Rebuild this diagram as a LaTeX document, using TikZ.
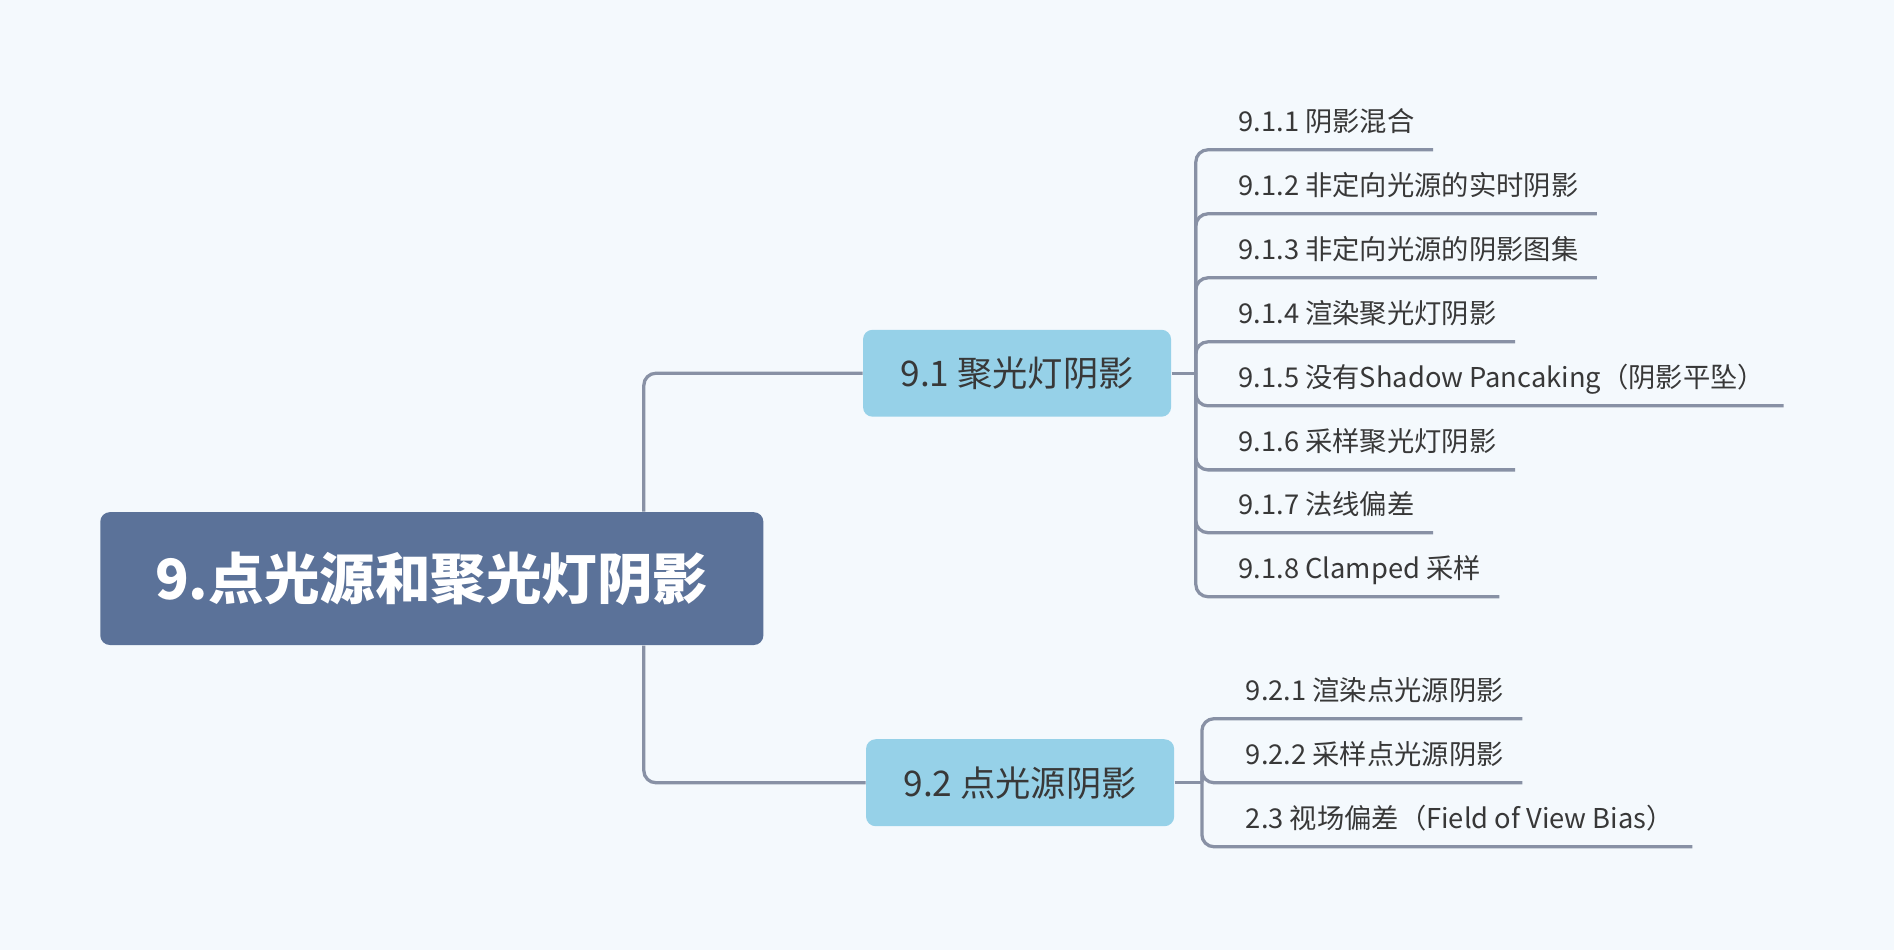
\documentclass[tikz,border=0pt]{standalone}
\usepackage{fontspec}
\setmainfont{Noto Sans CJK SC}
\usepackage{xcolor}

\definecolor{bgcol}{HTML}{F4F9FD}
\definecolor{rootcol}{HTML}{5B7299}
\definecolor{subcol}{HTML}{96D1E8}
\definecolor{linecol}{HTML}{8891A5}
\definecolor{txtcol}{HTML}{383838}

\begin{document}
\begin{tikzpicture}[x=0.5pt,y=-0.5pt,
        link/.style={draw=linecol, line width=1.35pt, rounded corners=5pt},
        rootbox/.style={fill=rootcol, rounded corners=4pt, minimum width=274.5pt, minimum height=55pt,
                        text=white, font=\bfseries\fontsize{23}{26}\selectfont},
        subbox/.style={fill=subcol, rounded corners=4pt, minimum height=36pt, inner xsep=15.5pt,
                       text=txtcol, font=\fontsize{14.6}{17}\selectfont},
        leaf/.style={anchor=south west, inner xsep=7.5pt, inner ysep=0pt, minimum height=23pt,
                     text height=.94em, text depth=.1em, text=txtcol, font=\fontsize{11.3}{13}\selectfont}]

        % Фон
        \fill[bgcol] (0,0) rectangle (1568,786.5);
        \useasboundingbox (0,0) rectangle (1568,786.5);

        % Узлы
        \node[rootbox] (root) at (357.5,479) {9.点光源和聚光灯阴影};
        \node[subbox] (s91) at (842,309) {9.1 聚光灯阴影};
        \node[subbox] (s92) at (844.5,648) {9.2 点光源阴影};

        % Линии от корня
        \coordinate (rx) at (533,0);
        \draw[link] (root.north -| rx) |- (s91.west);
        \draw[link] (root.south -| rx) |- (s92.west);

        % Ветка 9.1
        \coordinate (j91) at (990,309);
        \draw[link] (s91.east) -- (j91);
        \foreach \n/\y/\t in {1/124/{9.1.1 阴影混合},
                              2/177/{9.1.2 非定向光源的实时阴影},
                              3/230/{9.1.3 非定向光源的阴影图集},
                              4/283/{9.1.4 渲染聚光灯阴影},
                              5/336/{9.1.5 没有Shadow Pancaking（阴影平坠）},
                              6/389/{9.1.6 采样聚光灯阴影},
                              7/441/{9.1.7 法线偏差},
                              8/494/{9.1.8 Clamped 采样}}
        {
            \node[leaf] (l91\n) at (1010,\y) {\t};
            \draw[link] (j91) |- (l91\n.south east);
        }

        % Ветка 9.2
        \coordinate (j92) at (995,648);
        \draw[link] (s92.east) -- (j92);
        \foreach \n/\y/\t in {1/595/{9.2.1 渲染点光源阴影},
                              2/648/{9.2.2 采样点光源阴影},
                              3/701/{2.3 视场偏差（Field of View Bias）}}
        {
            \node[leaf] (l92\n) at (1016,\y) {\t};
            \draw[link] (j92) |- (l92\n.south east);
        }
\end{tikzpicture}
\end{document}
